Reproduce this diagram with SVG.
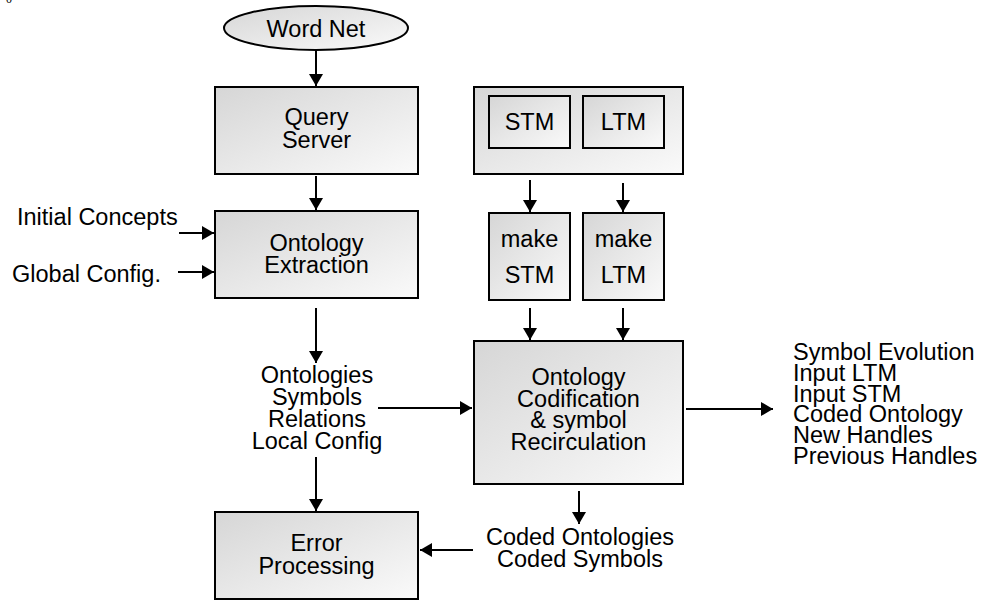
<svg xmlns="http://www.w3.org/2000/svg" width="986" height="601" viewBox="0 0 986 601">
<style>
.box { fill: url(#g); stroke: #000; stroke-width: 2; }
.t { font-family: "Liberation Sans", Arial, Helvetica, sans-serif; font-size: 23.5px; fill: #000; }
.c { text-anchor: middle; }
#connectors line { stroke: #000; stroke-width: 2; marker-end: url(#ah); }
</style>
<defs>
<linearGradient id="g" x1="0" y1="0" x2="1" y2="1">
<stop offset="0" stop-color="#d6d6d6"/>
<stop offset="1" stop-color="#fafafa"/>
</linearGradient>
<marker id="ah" markerUnits="userSpaceOnUse" markerWidth="13" markerHeight="14" refX="12" refY="7" orient="auto">
<path d="M0,0 L12,7 L0,14 z" fill="#000"/>
</marker>
</defs>
<rect width="986" height="601" fill="#fff"/>
<text x="6" y="3" font-family="Liberation Serif, serif" font-size="12">0</text>

<g id="wordnet">
<ellipse class="box" cx="316" cy="28" rx="92" ry="22"/>
<text class="t c" x="316" y="37">Word Net</text>
</g>
<g id="query-server">
<rect class="box" x="215" y="87" width="203" height="87"/>
<text class="t c" x="316.5" y="125">Query</text>
<text class="t c" x="316.5" y="148">Server</text>
</g>
<g id="ontology-extraction">
<rect class="box" x="215" y="211" width="203" height="87"/>
<text class="t c" x="316.5" y="251">Ontology</text>
<text class="t c" x="316.5" y="273">Extraction</text>
</g>
<g id="initial-concepts">
<text class="t" x="17" y="225">Initial Concepts</text>
</g>
<g id="global-config">
<text class="t" x="12" y="282">Global Config.</text>
</g>
<g id="extraction-outputs">
<text class="t c" x="317" y="383">Ontologies</text>
<text class="t c" x="317" y="405">Symbols</text>
<text class="t c" x="317" y="427">Relations</text>
<text class="t c" x="317" y="449">Local Config</text>
</g>
<g id="error-processing">
<rect class="box" x="215" y="512" width="203" height="87"/>
<text class="t c" x="316.5" y="551">Error</text>
<text class="t c" x="316.5" y="574">Processing</text>
</g>
<g id="memory">
<rect class="box" x="474" y="87" width="209" height="87"/>
<g id="stm">
<rect class="box" x="489" y="96" width="81" height="52"/>
<text class="t c" x="529.5" y="130">STM</text>
</g>
<g id="ltm">
<rect class="box" x="583" y="96" width="81" height="52"/>
<text class="t c" x="623.5" y="130">LTM</text>
</g>
</g>
<g id="make-stm">
<rect class="box" x="489" y="213" width="81" height="87"/>
<text class="t c" x="529.5" y="247">make</text>
<text class="t c" x="529.5" y="283">STM</text>
</g>
<g id="make-ltm">
<rect class="box" x="583" y="213" width="81" height="87"/>
<text class="t c" x="623.5" y="247">make</text>
<text class="t c" x="623.5" y="283">LTM</text>
</g>
<g id="codification">
<rect class="box" x="474" y="341" width="209" height="143"/>
<text class="t c" x="578.5" y="385">Ontology</text>
<text class="t c" x="578.5" y="407">Codification</text>
<text class="t c" x="578.5" y="428">&amp; symbol</text>
<text class="t c" x="578.5" y="450">Recirculation</text>
</g>
<g id="codification-outputs">
<text class="t" x="793" y="360">Symbol Evolution</text>
<text class="t" x="793" y="381">Input LTM</text>
<text class="t" x="793" y="402">Input STM</text>
<text class="t" x="793" y="422">Coded Ontology</text>
<text class="t" x="793" y="443">New Handles</text>
<text class="t" x="793" y="464">Previous Handles</text>
</g>
<g id="coded-outputs">
<text class="t c" x="580" y="545">Coded Ontologies</text>
<text class="t c" x="580" y="567">Coded Symbols</text>
</g>

<g id="connectors">
<line x1="316" y1="51" x2="316" y2="86"/>
<line x1="316" y1="176" x2="316" y2="210"/>
<line x1="179" y1="233" x2="214" y2="233"/>
<line x1="178" y1="272" x2="214" y2="272"/>
<line x1="316" y1="308" x2="316" y2="363"/>
<line x1="316" y1="457" x2="316" y2="511"/>
<line x1="378" y1="408" x2="472" y2="408"/>
<line x1="686" y1="409" x2="773" y2="409"/>
<line x1="579" y1="491" x2="579" y2="524"/>
<line x1="473" y1="550" x2="420" y2="550"/>
<line x1="530" y1="180" x2="530" y2="212"/>
<line x1="623" y1="183" x2="623" y2="212"/>
<line x1="530" y1="308" x2="530" y2="340"/>
<line x1="623" y1="308" x2="623" y2="340"/>
</g>
</svg>
